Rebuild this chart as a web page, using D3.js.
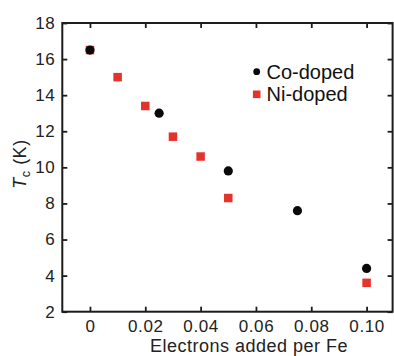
<!DOCTYPE html>
<html>
<head>
<meta charset="utf-8">
<script src="https://cdn.jsdelivr.net/npm/d3@7"></script>
<style>
  html, body { margin: 0; padding: 0; background: #fff; }
  svg { display: block; font-family: Arial, "Liberation Sans", sans-serif; }
  .tick-label { font-size: 17px; letter-spacing: 0.6px; fill: #222; }
  .axis-title { font-size: 18px; letter-spacing: 0.5px; fill: #222; }
  .legend-label { font-size: 20px; fill: #111; }
</style>
</head>
<body>
<svg id="chart" width="394" height="356"></svg>
<script>
(function () {
  'use strict';

  // Values.
  const CO_X = [0, 0.025, 0.05, 0.075, 0.1];
  const CO_TC = [16.5, 13.0, 9.8, 7.6, 4.4];
  const NI_X = [0, 0.01, 0.02, 0.03, 0.04, 0.05, 0.1];
  const NI_TC = [16.5, 15.0, 13.4, 11.7, 10.6, 8.3, 3.6];

  const X_TICKS = [0, 0.02, 0.04, 0.06, 0.08, 0.10];
  const X_TICK_LABELS = ['0', '0.02', '0.04', '0.06', '0.08', '0.10'];
  const Y_TICKS = [2, 4, 6, 8, 10, 12, 14, 16, 18];

  const SERIES = [
    { label: 'Ni-doped', xs: NI_X, ys: NI_TC, shape: 'square', color: '#e3332b' },
    { label: 'Co-doped', xs: CO_X, ys: CO_TC, shape: 'circle', color: '#0a0a0a' }
  ];
  const LEGEND = ['Co-doped', 'Ni-doped'];

  const svg = d3.select('#chart');
  const left = 62.3, right = 392.6, top = 23, bottom = 311.7;

  const x = d3.scaleLinear().domain([-0.01, 0.1094]).range([left, right]);
  const y = d3.scaleLinear().domain([2, 18]).range([bottom, top]);

  const axisColor = '#1c1c1c';
  const tickLen = 5;

  // Axes (ticks point inward on all four sides)
  const fmtX = (d) => X_TICK_LABELS[X_TICKS.indexOf(d)];
  const bottomAxis = svg.append('g')
    .attr('transform', `translate(0,${bottom})`)
    .call(d3.axisBottom(x).tickValues(X_TICKS).tickSizeInner(-tickLen).tickSizeOuter(0).tickPadding(7.8).tickFormat(fmtX));
  const topAxis = svg.append('g')
    .attr('transform', `translate(0,${top})`)
    .call(d3.axisTop(x).tickValues(X_TICKS).tickSizeInner(-tickLen).tickSizeOuter(0).tickFormat(''));
  const leftAxis = svg.append('g')
    .attr('transform', `translate(${left},0)`)
    .call(d3.axisLeft(y).tickValues(Y_TICKS).tickSizeInner(-tickLen).tickSizeOuter(0).tickPadding(7).tickFormat(d3.format('d')));
  const rightAxis = svg.append('g')
    .attr('transform', `translate(${right},0)`)
    .call(d3.axisRight(y).tickValues(Y_TICKS).tickSizeInner(-tickLen).tickSizeOuter(0).tickFormat(''));

  [bottomAxis, topAxis, leftAxis, rightAxis].forEach((g) => {
    g.select('.domain').remove();
    g.selectAll('.tick line').attr('stroke', axisColor).attr('stroke-width', 1.8);
    g.selectAll('.tick text')
      .attr('class', 'tick-label')
      .attr('font-family', null)
      .attr('font-size', null)
      .attr('fill', '#222');
  });

  // Frame
  svg.append('rect')
    .attr('x', left).attr('y', top)
    .attr('width', right - left).attr('height', bottom - top)
    .attr('fill', 'none')
    .attr('stroke', axisColor)
    .attr('stroke-width', 2);

  // Markers
  const sq = 8.5, rad = 4.6;
  SERIES.forEach((s) => {
    const g = svg.append('g');
    s.xs.forEach((xv, i) => {
      if (s.shape === 'square') {
        g.append('rect')
          .attr('x', x(xv) - sq / 2).attr('y', y(s.ys[i]) - sq / 2)
          .attr('width', sq).attr('height', sq)
          .attr('fill', s.color);
      } else {
        g.append('circle')
          .attr('cx', x(xv)).attr('cy', y(s.ys[i]))
          .attr('r', rad)
          .attr('fill', s.color);
      }
    });
  });

  // Legend
  const legend = svg.append('g');
  LEGEND.forEach((name, i) => {
    const s = SERIES.find((d) => d.label === name);
    const cy = 71.7 + i * 22.6;
    if (s.shape === 'circle') {
      legend.append('circle').attr('cx', 256.7).attr('cy', cy).attr('r', 3.4).attr('fill', s.color);
    } else {
      legend.append('rect').attr('x', 256.7 - 3.8).attr('y', cy - 3.8)
        .attr('width', 7.6).attr('height', 7.6).attr('fill', s.color);
    }
    legend.append('text')
      .attr('class', 'legend-label')
      .attr('x', 266.5).attr('y', cy + 7)
      .text(name);
  });

  // Axis titles
  svg.append('text')
    .attr('class', 'axis-title')
    .attr('x', 249).attr('y', 352)
    .attr('text-anchor', 'middle')
    .text('Electrons added per Fe');

  const yTitle = svg.append('text')
    .attr('class', 'axis-title')
    .attr('transform', `translate(25.5,164) rotate(-90)`)
    .attr('text-anchor', 'middle');
  yTitle.append('tspan').attr('font-style', 'italic').text('T');
  yTitle.append('tspan').attr('font-size', '12.5px').attr('dy', 4).text('c');
  yTitle.append('tspan').attr('dy', -4).text(' (K)');
})();
</script>
</body>
</html>
